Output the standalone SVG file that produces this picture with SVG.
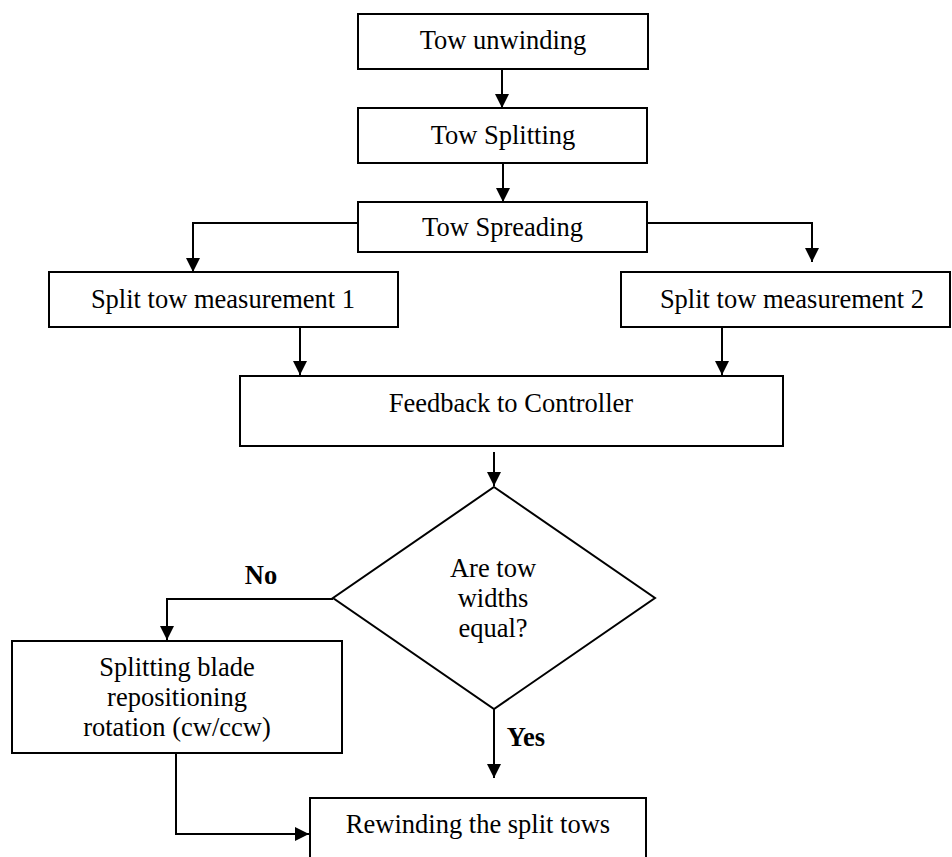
<svg xmlns="http://www.w3.org/2000/svg" width="952" height="857" viewBox="0 0 952 857">
<defs>
<style>
.box{fill:#fff;stroke:#000;stroke-width:2}
.t{font-family:"Liberation Serif","Times New Roman",serif;font-size:26.5px;fill:#000;text-anchor:middle}
.b{font-weight:bold}
.c{fill:none;stroke:#000;stroke-width:2}
</style>
<marker id="ah" viewBox="0 0 14 14" refX="14" refY="7" markerWidth="14" markerHeight="14" markerUnits="userSpaceOnUse" orient="auto">
<path d="M0,0 L14,7 L0,14 Z" fill="#000"/>
</marker>
</defs>
<rect width="952" height="857" fill="#fff"/>
<g id="connectors">
<line class="c" x1="502" y1="69" x2="502" y2="108" marker-end="url(#ah)"/>
<line class="c" x1="503" y1="163" x2="503" y2="202" marker-end="url(#ah)"/>
<polyline class="c" points="358,223 193,223 193,272" marker-end="url(#ah)"/>
<polyline class="c" points="647,223 812,223 812,262" marker-end="url(#ah)"/>
<line class="c" x1="300" y1="327" x2="300" y2="375" marker-end="url(#ah)"/>
<line class="c" x1="722" y1="327" x2="722" y2="375" marker-end="url(#ah)"/>
<line class="c" x1="494" y1="452" x2="494" y2="486" marker-end="url(#ah)"/>
<polyline class="c" points="333,599 167,599 167,640" marker-end="url(#ah)"/>
<line class="c" x1="494" y1="709" x2="494" y2="778" marker-end="url(#ah)"/>
<polyline class="c" points="176,753 176,834 309,834" marker-end="url(#ah)"/>
<text class="t b" x="261" y="584">No</text>
<text class="t b" x="526" y="746">Yes</text>
</g>
<g id="n1"><rect class="box" x="358" y="14" width="290" height="55"/><text class="t" x="503" y="49">Tow unwinding</text></g>
<g id="n2"><rect class="box" x="358" y="108" width="289" height="55"/><text class="t" x="503" y="144">Tow Splitting</text></g>
<g id="n3"><rect class="box" x="358" y="202" width="289" height="50"/><text class="t" x="502.5" y="236">Tow Spreading</text></g>
<g id="n4"><rect class="box" x="49" y="272" width="349" height="55"/><text class="t" x="223" y="308">Split tow measurement 1</text></g>
<g id="n5"><rect class="box" x="621" y="272" width="329" height="55"/><text class="t" x="792" y="308">Split tow measurement 2</text></g>
<g id="n6"><rect class="box" x="240" y="376" width="543" height="70"/><text class="t" x="511" y="412">Feedback to Controller</text></g>
<g id="n7"><polygon class="box" points="494,487 655,598 494,709 333,598"/>
<text class="t" x="493" y="577">Are tow</text><text class="t" x="493" y="607">widths</text><text class="t" x="493" y="637">equal?</text></g>
<g id="n8"><rect class="box" x="12" y="641" width="330" height="112"/>
<text class="t" x="177" y="676">Splitting blade</text><text class="t" x="177" y="706">repositioning</text><text class="t" x="177" y="736">rotation (cw/ccw)</text></g>
<g id="n9"><rect class="box" x="310" y="798" width="336" height="80"/><text class="t" x="478" y="833">Rewinding the split tows</text></g>
</svg>
